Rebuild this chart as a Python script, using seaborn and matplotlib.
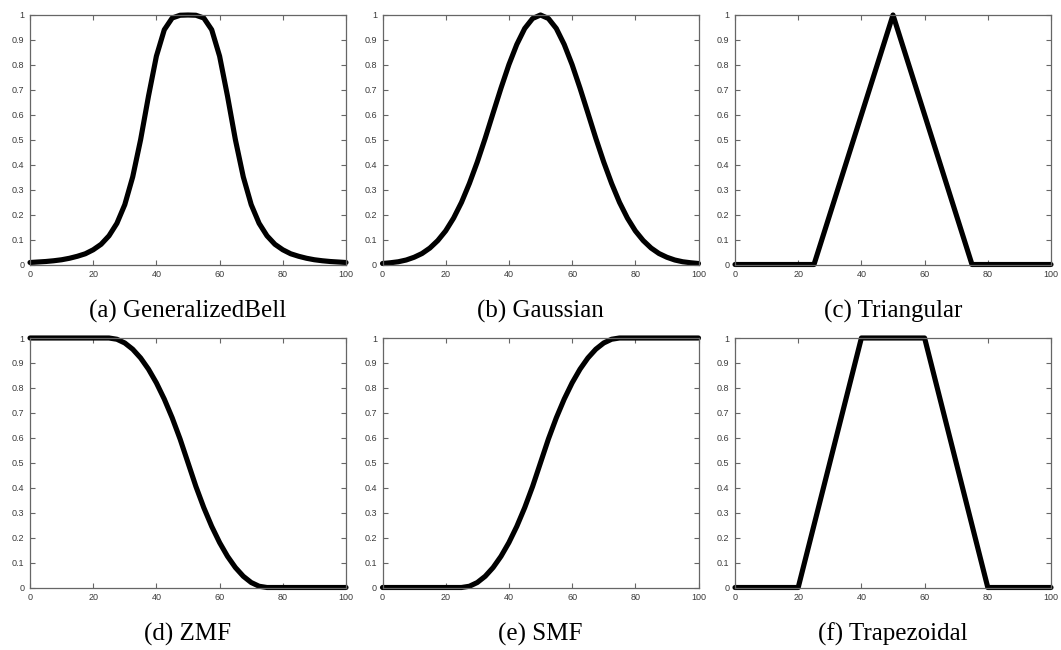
import matplotlib
matplotlib.use('Agg')
import matplotlib.pyplot as plt
import seaborn as sns
import pandas as pd

# sample points for the smooth curves (every 2.5 units)
x_fine = [0, 2.5, 5, 7.5, 10, 12.5, 15, 17.5, 20, 22.5, 25, 27.5, 30, 32.5, 35, 37.5, 40,
          42.5, 45, 47.5, 50, 52.5, 55, 57.5, 60, 62.5, 65, 67.5, 70, 72.5, 75, 77.5, 80,
          82.5, 85, 87.5, 90, 92.5, 95, 97.5, 100]

bell_y = [0.008, 0.010, 0.012, 0.015, 0.019, 0.025, 0.033, 0.043, 0.059, 0.081, 0.115,
          0.165, 0.240, 0.351, 0.500, 0.675, 0.835, 0.941, 0.988, 0.999, 1.000, 0.999,
          0.988, 0.941, 0.835, 0.675, 0.500, 0.351, 0.240, 0.165, 0.115, 0.081, 0.059,
          0.043, 0.033, 0.025, 0.019, 0.015, 0.012, 0.010, 0.008]

gauss_y = [0.004, 0.007, 0.011, 0.018, 0.029, 0.044, 0.066, 0.096, 0.135, 0.186, 0.249,
           0.325, 0.411, 0.506, 0.607, 0.707, 0.801, 0.882, 0.946, 0.986, 1.000, 0.986,
           0.946, 0.882, 0.801, 0.707, 0.607, 0.506, 0.411, 0.325, 0.249, 0.186, 0.135,
           0.096, 0.066, 0.044, 0.029, 0.018, 0.011, 0.007, 0.004]

zmf_y = [1, 1, 1, 1, 1, 1, 1, 1, 1, 1, 1, 0.995, 0.98, 0.955, 0.92, 0.875, 0.82, 0.755,
         0.68, 0.595, 0.5, 0.405, 0.32, 0.245, 0.18, 0.125, 0.08, 0.045, 0.02, 0.005, 0,
         0, 0, 0, 0, 0, 0, 0, 0, 0, 0]

smf_y = [0, 0, 0, 0, 0, 0, 0, 0, 0, 0, 0, 0.005, 0.02, 0.045, 0.08, 0.125, 0.18, 0.245,
         0.32, 0.405, 0.5, 0.595, 0.68, 0.755, 0.82, 0.875, 0.92, 0.955, 0.98, 0.995, 1,
         1, 1, 1, 1, 1, 1, 1, 1, 1, 1]

# piecewise linear ones only need their corners
tri_x = [0, 25, 50, 75, 100]
tri_y = [0, 0, 1, 0, 0]
trap_x = [0, 20, 40, 60, 80, 100]
trap_y = [0, 0, 1, 1, 0, 0]

captions = ["(a) GeneralizedBell", "(b) Gaussian", "(c) Triangular",
            "(d) ZMF", "(e) SMF", "(f) Trapezoidal"]

panels = [(x_fine, bell_y), (x_fine, gauss_y), (tri_x, tri_y),
          (x_fine, zmf_y), (x_fine, smf_y), (trap_x, trap_y)]

sns.set_theme(style="ticks", rc={
    "axes.edgecolor": "#666666",
    "axes.linewidth": 0.9,
    "xtick.color": "#666666",
    "ytick.color": "#666666",
    "xtick.labelcolor": "#3a3a3a",
    "ytick.labelcolor": "#3a3a3a",
})
plt.rcParams['font.family'] = ['Liberation Sans', 'DejaVu Sans']

fig = plt.figure(figsize=(10.61, 6.5), dpi=100)

W, H = 1061, 650
lefts = [30, 382.5, 735]
tops = [15, 338]
aw, ah = 316, 249.5
cap_base = [318, 641]   # caption baselines in pixels from the top

yticks = [0, 0.1, 0.2, 0.3, 0.4, 0.5, 0.6, 0.7, 0.8, 0.9, 1]
ylabels = ["0", "0.1", "0.2", "0.3", "0.4", "0.5", "0.6", "0.7", "0.8", "0.9", "1"]
xticks = [0, 20, 40, 60, 80, 100]

for i, (xs, ys) in enumerate(panels):
    r, c = divmod(i, 3)
    ax = fig.add_axes([lefts[c] / W, 1 - (tops[r] + ah) / H, aw / W, ah / H])
    df = pd.DataFrame({"x": xs, "y": ys})
    sns.lineplot(data=df, x="x", y="y", ax=ax, color="black", linewidth=3.7,
                 clip_on=False, solid_joinstyle="round", solid_capstyle="round")
    ax.set_xlim(0, 100)
    ax.set_ylim(0, 1)
    ax.set_xticks(xticks)
    ax.set_xticklabels([str(t) for t in xticks])
    ax.set_yticks(yticks)
    ax.set_yticklabels(ylabels)
    ax.tick_params(direction="in", length=3.5, width=0.8, labelsize=6.5,
                   top=True, right=True, pad=4)
    ax.set_xlabel("")
    ax.set_ylabel("")
    fig.text((lefts[c] + aw / 2) / W, 1 - cap_base[r] / H, captions[i],
             ha="center", va="baseline", fontsize=18, color="black",
             family=["Liberation Serif", "DejaVu Serif"])

fig.savefig("out.png", dpi=100)
plt.close(fig)
